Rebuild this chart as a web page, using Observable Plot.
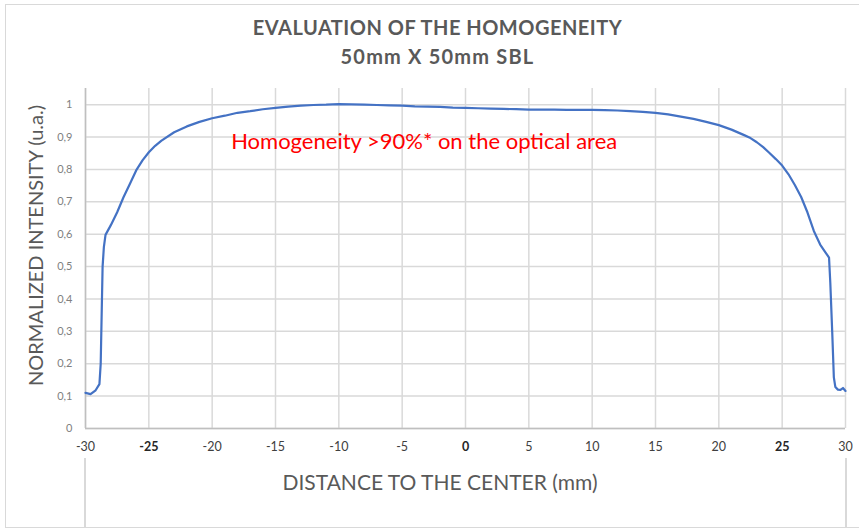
<!DOCTYPE html>
<html>
<head>
<meta charset="utf-8">
<script src="https://cdn.jsdelivr.net/npm/d3@7"></script>
<script src="https://cdn.jsdelivr.net/npm/@observablehq/plot@0.6"></script>
<style>
  body { margin: 0; background: #fff; }
  #wrap { position: relative; width: 859px; height: 528px; overflow: hidden; font-family: Lato, "Open Sans", sans-serif; }
  #frame { position: absolute; left: 5px; top: 4px; width: 870px; height: 522px; border-left: 1px solid #d9d9d9; border-top: 1px solid #d9d9d9; border-bottom: 1px solid #d9d9d9; }
  #chart { position: absolute; left: 0; top: 0; }
  .title { position: absolute; left: 0; width: 875px; text-align: center; color: #595959; font-weight: bold; font-size: 20px; }
  #xbox { position: absolute; left: 84px; top: 458px; width: 759px; height: 72px; border-left: 2px solid #d9d9d9; border-right: 2px solid #d9d9d9; }
  #xlabel { position: absolute; left: 0; width: 880px; top: 469px; text-align: center; color: #595959; font-size: 21px; }
</style>
</head>
<body>
<div id="wrap">
  <div id="frame"></div>
  <div id="xbox"></div>
  <div id="chart"></div>
  <div class="title" style="top:15px; letter-spacing:0.5px">EVALUATION OF THE HOMOGENEITY</div>
  <div class="title" style="top:44px; letter-spacing:1.2px">50mm X 50mm SBL</div>
  <div id="xlabel">DISTANCE TO THE CENTER (mm)</div>
</div>
<script>
// Distance to the center (mm)
const distance = [
  -30, -29.6, -29.2, -28.9, -28.8, -28.65, -28.55, -28.42, -28, -27.5, -27, -26.5, -26, -25.5, -25, -24.5, -24,
  -23, -22, -21, -20, -19, -18, -17, -16, -15, -14, -13, -12, -11, -10, -9, -8, -7, -6, -5, -4, -3, -2, -1,
  0, 1, 2, 3, 4, 5, 6, 7, 8, 9, 10, 11, 12, 13, 14, 15, 16, 17, 18, 19, 20, 21, 22, 22.5, 23, 23.5, 24, 24.5,
  25, 25.5, 26, 26.5, 27, 27.5, 28, 28.4, 28.7, 28.8, 28.95, 29.08, 29.2, 29.4, 29.6, 29.8, 30
];
// Normalized intensity (u.a.)
const intensity = [
  0.110, 0.106, 0.118, 0.137, 0.20, 0.50, 0.56, 0.598, 0.628, 0.668, 0.714, 0.755, 0.797, 0.828, 0.853, 0.873, 0.889,
  0.915, 0.933, 0.947, 0.958, 0.966, 0.975, 0.980, 0.986, 0.990, 0.994, 0.997, 0.999, 1.000, 1.002, 1.001, 1.000, 0.999, 0.998, 0.997, 0.995, 0.994, 0.993, 0.991,
  0.990, 0.989, 0.988, 0.987, 0.986, 0.985, 0.985, 0.985, 0.984, 0.984, 0.984, 0.983, 0.982, 0.980, 0.978, 0.975, 0.970, 0.963, 0.956, 0.947, 0.937, 0.923, 0.906, 0.897, 0.884, 0.869, 0.851, 0.832,
  0.812, 0.785, 0.752, 0.715, 0.667, 0.610, 0.568, 0.545, 0.528, 0.450, 0.300, 0.158, 0.128, 0.120, 0.119, 0.125, 0.116
];
const xTicksNormal = [-30, -20, -15, -10, -5, 5, 10, 15, 20, 30];
const xTicksBold = [-25, 0, 25];
const yTicks = [0, 0.1, 0.2, 0.3, 0.4, 0.5, 0.6, 0.7, 0.8, 0.9, 1];
const annotation = [{x: -18.5, y: 0.884, label: "Homogeneity >90%* on the optical area"}];
const yAxisTitle = "NORMALIZED INTENSITY (u.a.)";

const data = distance.map((d, i) => ({x: d, y: intensity[i]}));
const fmtY = d => d === 0 ? "0" : d === 1 ? "1" : d.toFixed(1).replace(".", ",");

const plot = Plot.plot({
  width: 859,
  height: 460,
  marginLeft: 85,
  marginRight: 14,
  marginTop: 88,
  marginBottom: 32,
  style: {background: "transparent", fontFamily: "Lato, 'Open Sans', sans-serif"},
  x: {domain: [-30, 30]},
  y: {domain: [0, 1.05]},
  marks: [
    Plot.gridX(xTicksNormal.concat(xTicksBold), {stroke: "#d9d9d9", strokeOpacity: 1, strokeWidth: 1.5}),
    Plot.gridY(yTicks, {stroke: "#d9d9d9", strokeOpacity: 1, strokeWidth: 1.5}),
    Plot.ruleX([-30], {stroke: "#bfbfbf", strokeWidth: 1.5}),
    Plot.ruleY([0], {stroke: "#bfbfbf", strokeWidth: 1.5}),
    Plot.axisY(yTicks, {tickSize: 0, tickPadding: 13, tickFormat: fmtY, label: null, fontSize: 11, color: "#7f7f7f"}),
    Plot.axisX(xTicksNormal, {tickSize: 0, tickPadding: 14, tickFormat: d => String(d), label: null, fontSize: 12.5, color: "#404040"}),
    Plot.axisX(xTicksBold, {tickSize: 0, tickPadding: 14, tickFormat: d => String(d), label: null, fontSize: 12.5, fontWeight: "bold", color: "#262626"}),
    Plot.text([yAxisTitle], {frameAnchor: "left", textAnchor: "middle", rotate: -90, dx: -49, dy: -13, fontSize: 20, fill: "#595959", text: d => d}),
    Plot.line(data, {x: "x", y: "y", stroke: "#4472C4", strokeWidth: 2.2, curve: "linear"}),
    Plot.text(annotation, {x: "x", y: "y", text: "label", textAnchor: "start", fill: "#ff0000", fontSize: 22})
  ]
});
document.getElementById("chart").appendChild(plot);
</script>
</body>
</html>
